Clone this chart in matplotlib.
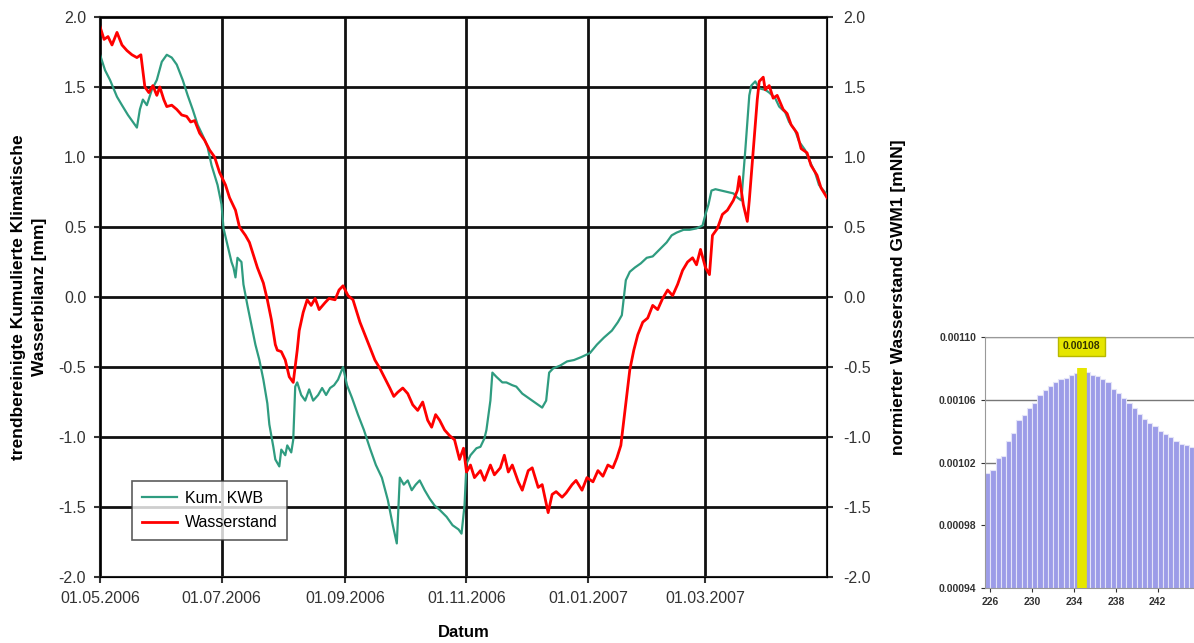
import numpy as np
import pandas as pd
import matplotlib
matplotlib.use("Agg")
import matplotlib.pyplot as plt
import matplotlib.dates as mdates

plt.rcParams['font.family'] = ['Liberation Sans', 'DejaVu Sans']

# Tage seit 01.05.2006 und Werte der beiden Zeitreihen
start = pd.Timestamp("2006-05-01")

tage_ws = [0, 2, 4, 6, 8.5, 11, 13.5, 16, 18.5, 20.5, 22.5, 24.5, 26.5, 28.5, 30, 32,
           33.5, 36, 38.5, 41, 43.5, 45.5, 47.5, 50, 52.5, 55, 57.5, 60, 63, 65, 68, 70,
           73, 75, 77, 79, 82, 84, 86, 88, 89, 91, 93, 95, 97, 99, 100, 102, 104, 106,
           108, 110, 113, 115, 118, 120, 122, 124.5, 127, 129, 130.5, 133, 135.5, 138,
           140.5, 143, 145.5, 147.5, 149.5, 152, 154.5, 157, 159.5, 162, 164.5, 166.5,
           168.5, 170.5, 173, 175.5, 178, 180.5, 182.5, 184, 186, 188, 191, 193, 196,
           198, 201, 203, 205, 207, 210, 212, 215, 217, 220, 222, 225, 227, 229, 232,
           234, 237, 239, 242, 244.5, 247.5, 250, 252.5, 255, 257.5, 259.5, 261.5, 263,
           264.5, 266, 268, 270, 272.5, 275, 277.5, 280, 282.5, 285, 287.5, 290, 292.5,
           295, 297.5, 299.5, 301.5, 304, 306, 307.5, 310, 312.5, 315, 318, 320, 321,
           323, 325, 326, 328, 330, 331, 333, 334, 336, 338, 340, 343, 345, 347, 350,
           352, 355, 357, 360, 362, 365]
wasserstand = [1.93, 1.84, 1.86, 1.80, 1.89, 1.80, 1.76, 1.73, 1.71, 1.73, 1.50, 1.46,
               1.51, 1.44, 1.50, 1.41, 1.36, 1.37, 1.34, 1.30, 1.29, 1.25, 1.26, 1.17,
               1.12, 1.05, 1.00, 0.89, 0.80, 0.71, 0.62, 0.50, 0.44, 0.39, 0.30, 0.21,
               0.10, -0.02, -0.16, -0.34, -0.38, -0.39, -0.45, -0.57, -0.61, -0.38,
               -0.24, -0.11, -0.02, -0.06, -0.01, -0.09, -0.04, -0.01, -0.02, 0.05, 0.08,
               0.01, -0.02, -0.11, -0.18, -0.27, -0.36, -0.45, -0.51, -0.58, -0.65,
               -0.71, -0.68, -0.65, -0.69, -0.77, -0.81, -0.75, -0.88, -0.93, -0.84,
               -0.88, -0.95, -0.99, -1.02, -1.16, -1.08, -1.25, -1.20, -1.29, -1.24,
               -1.31, -1.20, -1.27, -1.22, -1.13, -1.25, -1.20, -1.32, -1.38, -1.24,
               -1.22, -1.36, -1.34, -1.54, -1.41, -1.39, -1.43, -1.40, -1.34, -1.31,
               -1.38, -1.29, -1.32, -1.24, -1.28, -1.20, -1.22, -1.15, -1.06, -0.88,
               -0.70, -0.52, -0.38, -0.27, -0.18, -0.15, -0.06, -0.09, -0.01, 0.05,
               0.01, 0.09, 0.19, 0.25, 0.28, 0.23, 0.34, 0.21, 0.16, 0.44, 0.49, 0.59,
               0.62, 0.69, 0.76, 0.86, 0.66, 0.54, 0.69, 1.05, 1.41, 1.54, 1.57, 1.48,
               1.51, 1.42, 1.44, 1.34, 1.31, 1.23, 1.17, 1.06, 1.03, 0.94, 0.87, 0.78,
               0.71]

tage_kwb = [0, 2.5, 5, 8.5, 11, 14, 16.5, 18.5, 20, 21.5, 23.5, 26, 28.5, 31, 33.5, 36,
            38.5, 41.5, 44, 46.5, 49, 52, 54, 56, 59, 61, 62, 64, 66, 67, 68, 69, 71, 72,
            74, 76, 78, 80, 82, 84, 85, 87, 88, 90, 91, 93, 94, 96, 97, 98, 99, 101, 103,
            105, 107, 109.5, 111.5, 113.5, 115.5, 117.5, 119.5, 122, 124, 126.5, 129.5,
            132.5, 135.5, 138.5, 141.5, 144.5, 147, 149, 150.5, 152.5, 154.5, 156.5,
            158.5, 160.5, 163, 165.5, 168, 170.5, 174, 177, 180, 181.5, 183, 184, 186,
            189, 191, 193, 194, 196, 197, 199, 202, 204, 207, 209, 212, 214, 217, 219,
            222, 224, 225.5, 227.5, 231, 234.5, 238, 241.5, 246, 249.5, 253, 257, 260,
            262, 264, 266, 268.5, 271.5, 274.5, 277.5, 281, 284.5, 287, 289.5, 293, 296,
            299.5, 302.5, 304, 305.5, 307, 309, 312, 315, 318, 320, 322, 324, 326, 327,
            329, 331, 334, 336, 339, 341, 344, 346, 349, 351, 354, 356, 359, 361, 365]
kum_kwb = [1.73, 1.62, 1.55, 1.43, 1.37, 1.30, 1.25, 1.21, 1.34, 1.41, 1.37, 1.48, 1.55,
           1.68, 1.73, 1.71, 1.66, 1.55, 1.44, 1.34, 1.23, 1.14, 1.07, 0.94, 0.80, 0.66,
           0.49, 0.37, 0.25, 0.21, 0.14, 0.28, 0.25, 0.09, -0.06, -0.20, -0.34, -0.45,
           -0.59, -0.76, -0.91, -1.07, -1.16, -1.21, -1.09, -1.13, -1.06, -1.11, -1.02,
           -0.64, -0.61, -0.70, -0.74, -0.66, -0.74, -0.70, -0.65, -0.70, -0.65, -0.63,
           -0.59, -0.50, -0.63, -0.72, -0.84, -0.95, -1.08, -1.20, -1.29, -1.45, -1.63,
           -1.76, -1.29, -1.34, -1.31, -1.38, -1.34, -1.31, -1.38, -1.44, -1.49, -1.52,
           -1.57, -1.63, -1.66, -1.69, -1.49, -1.19, -1.13, -1.08, -1.07, -1.01, -0.95,
           -0.74, -0.54, -0.57, -0.61, -0.61, -0.63, -0.64, -0.69, -0.71, -0.74, -0.76,
           -0.79, -0.74, -0.54, -0.51, -0.49, -0.46, -0.45, -0.43, -0.40, -0.34, -0.29,
           -0.24, -0.18, -0.13, 0.12, 0.18, 0.21, 0.24, 0.28, 0.29, 0.34, 0.39, 0.44,
           0.46, 0.48, 0.48, 0.49, 0.51, 0.59, 0.66, 0.76, 0.77, 0.76, 0.75, 0.74, 0.71,
           0.69, 1.05, 1.44, 1.51, 1.54, 1.49, 1.48, 1.46, 1.42, 1.36, 1.32, 1.25, 1.19,
           1.11, 1.05, 0.98, 0.89, 0.80, 0.73]

y_ticks = [-2.0, -1.5, -1.0, -0.5, 0.0, 0.5, 1.0, 1.5, 2.0]
x_ticks = ["2006-05-01", "2006-07-01", "2006-09-01", "2006-11-01", "2007-01-01",
           "2007-03-01"]

# Histogramm (rechts unten)
hist_x = np.arange(225.75, 246.5, 0.5)
hist_y = [0.001013, 0.001015, 0.001023, 0.001024, 0.001034, 0.001039, 0.001047,
          0.001050, 0.001055, 0.001058, 0.001063, 0.001066, 0.001069, 0.001071,
          0.001073, 0.001074, 0.001076, 0.001077, 0.001080, 0.001078, 0.001076,
          0.001075, 0.001073, 0.001071, 0.001067, 0.001064, 0.001061, 0.001058,
          0.001055, 0.001051, 0.001048, 0.001045, 0.001043, 0.001040, 0.001038,
          0.001036, 0.001034, 0.001032, 0.001031, 0.001030, 0.001029, 0.001027]
hist_yticks = [0.00094, 0.00098, 0.00102, 0.00106, 0.00110]
hist_xticks = [226, 230, 234, 238, 242]

d_ws = start + pd.to_timedelta(tage_ws, unit="D")
d_kwb = start + pd.to_timedelta(tage_kwb, unit="D")

fig = plt.figure(figsize=(11.94, 6.43), dpi=100)
ax = fig.add_axes([0.0838, 0.1026, 0.6088, 0.871])

kwb_line, = ax.plot(d_kwb, kum_kwb, color="#2f9c80", lw=1.6, label="Kum. KWB", zorder=3)
ws_line, = ax.plot(d_ws, wasserstand, color="#ff0000", lw=2.0, label="Wasserstand", zorder=4)

ax.set_xlim(start, pd.Timestamp("2007-05-01"))
ax.set_ylim(-2.0, 2.0)
ax.set_yticks(y_ticks)
ax.yaxis.set_major_formatter(matplotlib.ticker.FormatStrFormatter("%.1f"))
ax.set_xticks(pd.to_datetime(x_ticks))
ax.xaxis.set_major_formatter(mdates.DateFormatter("%d.%m.%Y"))
ax.grid(True, color="#111111", lw=2.0, zorder=1)
ax.tick_params(labelsize=11.5, colors="#333333", length=4, width=1.5, pad=6)
for s in ax.spines.values():
    s.set_color("#222222")
    s.set_linewidth(1.5)

ax.set_xlabel("Datum", fontsize=12, fontweight="bold", labelpad=14)
ax.set_ylabel("trendbereinigte Kumulierte Klimatische\nWasserbilanz [mm]",
              fontsize=12.5, fontweight="bold", labelpad=8, linespacing=1.5)

ax2 = ax.twinx()
ax2.set_ylim(-2.0, 2.0)
ax2.set_yticks(y_ticks)
ax2.yaxis.set_major_formatter(matplotlib.ticker.FormatStrFormatter("%.1f"))
ax2.tick_params(labelsize=11.5, colors="#333333", length=4, width=1.5, pad=8)
ax2.set_ylabel("normierter Wasserstand GWM1 [mNN]", fontsize=12.5, fontweight="bold",
               labelpad=14)

leg = ax.legend(handles=[kwb_line, ws_line], loc="lower left",
                bbox_to_anchor=(0.033, 0.052), fontsize=11.5, frameon=True,
                fancybox=False, handlelength=2.2, handletextpad=0.5, borderpad=0.6,
                labelspacing=0.6)
leg.get_frame().set_edgecolor("#333333")
leg.get_frame().set_linewidth(1.2)

# Histogramm mit markiertem Maximum
axh = fig.add_axes([0.825, 0.0855, 0.184, 0.3904])
axh.bar(hist_x, hist_y, width=0.5, color="#9c9ce8", edgecolor="#e4e4f8", lw=0.8, zorder=2)
i_max = int(np.argmax(hist_y))
peak_x = hist_x[i_max]
peak_y = hist_y[i_max]
axh.vlines(peak_x, 0, peak_y, color="#e6e600", lw=7, zorder=3)
axh.text(peak_x, 0.001094, f"{peak_y:.5f}", ha="center", va="center", fontsize=7.5,
         fontweight="bold", color="#333300",
         bbox=dict(boxstyle="square,pad=0.45", facecolor="#e6e600", edgecolor="#b8b800"))
axh.set_xlim(225.5, 246.5)
axh.set_ylim(0.00094, 0.00110)
axh.set_yticks(hist_yticks)
axh.set_xticks(hist_xticks)
axh.yaxis.set_major_formatter(matplotlib.ticker.FormatStrFormatter("%.5f"))
axh.grid(True, axis="y", color="#777777", lw=1.0, zorder=1)
axh.tick_params(labelsize=7.5, colors="#333333", length=3)
for lab in axh.get_yticklabels() + axh.get_xticklabels():
    lab.set_fontweight("bold")
for s in axh.spines.values():
    s.set_color("#999999")

fig.savefig("out.png", dpi=100)
